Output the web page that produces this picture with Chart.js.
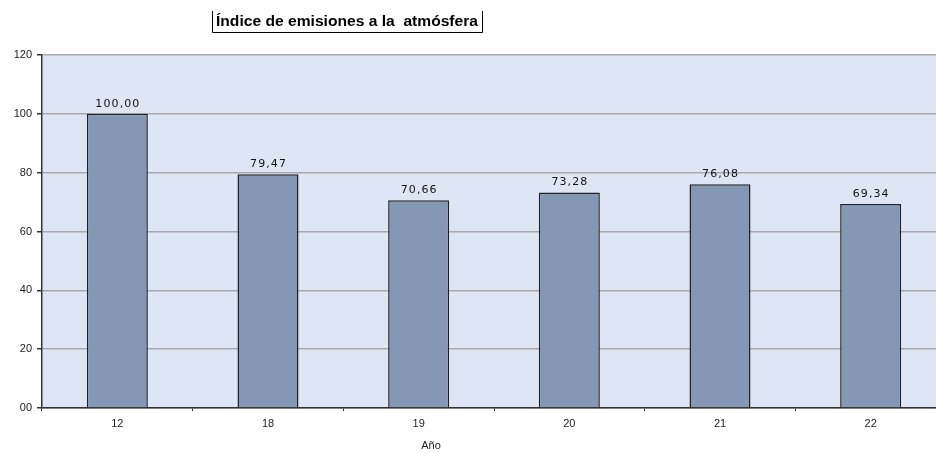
<!DOCTYPE html>
<html>
<head>
<meta charset="utf-8">
<script src="https://cdn.jsdelivr.net/npm/chart.js@4.4.0/dist/chart.umd.min.js"></script>
<style>
  html, body { margin: 0; padding: 0; background: #fff; overflow: hidden; }
  #wrap { width: 946px; height: 453px; }
</style>
</head>
<body>
<div id="wrap"><canvas id="chart"></canvas></div>
<script>
// Chart data
const years = ["12", "18", "19", "20", "21", "22"];
const emissionIndex = [100.00, 79.47, 70.66, 73.28, 76.08, 69.34];
const yTicks = [0, 20, 40, 60, 80, 100, 120];
const chartTitle = "Índice de emisiones a la  atmósfera";
const xTitle = "Año";

// Light blue plot area, boxed title, value labels, axis title
const decorations = {
  id: "decorations",
  beforeDraw(chart) {
    const { ctx, chartArea: a } = chart;
    ctx.save();
    ctx.fillStyle = "#dee6f6";
    ctx.fillRect(a.left, a.top, a.right - a.left, a.bottom - a.top);
    ctx.restore();
  },
  afterDraw(chart) {
    const { ctx } = chart;
    ctx.save();

    // title, stretched to the width of the original, with box
    ctx.font = "bold 14px 'Liberation Sans', Arial, sans-serif";
    ctx.fillStyle = "#000";
    ctx.textBaseline = "middle";
    ctx.textAlign = "left";
    const tw = ctx.measureText(chartTitle).width;
    const target = 262;
    ctx.save();
    ctx.translate(216, 22);
    ctx.scale(target / tw, 1);
    ctx.fillText(chartTitle, 0, 0);
    ctx.restore();
    ctx.strokeStyle = "#000";
    ctx.lineWidth = 1;
    ctx.beginPath();
    ctx.moveTo(212.5, 11);
    ctx.lineTo(212.5, 32.5);
    ctx.lineTo(482.5, 32.5);
    ctx.lineTo(482.5, 11);
    ctx.stroke();

    // value labels
    ctx.font = "11px 'DejaVu Sans', Verdana, sans-serif";
    ctx.textAlign = "center";
    ctx.textBaseline = "alphabetic";
    ctx.fillStyle = "#111";
    const meta = chart.getDatasetMeta(0);
    meta.data.forEach((bar, i) => {
      const txt = emissionIndex[i].toFixed(2).replace(".", ",");
      ctx.fillText(txt.split("").join(String.fromCharCode(8202)), bar.x, bar.y - 7);
    });

    // x axis title
    ctx.font = "11px 'Liberation Sans', Arial, sans-serif";
    ctx.fillStyle = "#222";
    ctx.fillText(xTitle, 431, 449);
    ctx.restore();
  }
};

new Chart(document.getElementById("chart"), {
  type: "bar",
  data: {
    labels: years,
    datasets: [{
      data: emissionIndex,
      backgroundColor: "#8497b5",
      borderColor: "#222",
      borderWidth: 1.5,
      categoryPercentage: 1,
      barPercentage: 0.405
    }]
  },
  options: {
    responsive: true,
    maintainAspectRatio: false,
    animation: false,
    layout: { padding: { top: 55, right: 0, left: 0, bottom: 0 } },
    plugins: {
      legend: { display: false },
      tooltip: { enabled: false }
    },
    scales: {
      x: {
        afterFit(scale) { scale.height = 45; },
        border: { color: "#333", width: 1.5 },
        grid: { display: true, drawOnChartArea: false, offset: true, tickLength: 3, color: "#333" },
        ticks: {
          color: "#222",
          padding: 6,
          font: { family: "'Liberation Sans', Arial, sans-serif", size: 11 }
        }
      },
      y: {
        min: 0,
        max: 120,
        afterFit(scale) { scale.width = 42; },
        afterBuildTicks(scale) { scale.ticks = yTicks.map(v => ({ value: v })); },
        border: { color: "#333", width: 1.5 },
        grid: { color: "#a9a9a9", lineWidth: 1.5, tickLength: 5, tickColor: "#333", drawTicks: true },
        ticks: {
          color: "#222",
          padding: 5,
          font: { family: "'Liberation Sans', Arial, sans-serif", size: 11 },
          callback: v => (v === 0 ? "00" : String(v))
        }
      }
    }
  },
  plugins: [decorations]
});
</script>
</body>
</html>
